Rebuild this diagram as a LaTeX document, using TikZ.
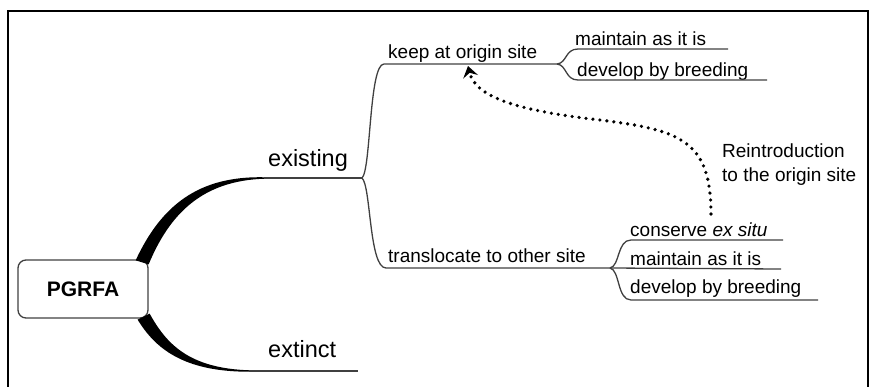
\documentclass[tikz,border=0pt]{standalone}
\usepackage{fontspec}
\setmainfont{Liberation Sans}
\usetikzlibrary{arrows.meta}

\tikzset{
  lbl/.style={inner sep=0pt, anchor=base west, font=\fontsize{19}{24}\selectfont},
  biglbl/.style={inner sep=0pt, anchor=base west, font=\fontsize{23.5}{28}\selectfont},
  twig/.style={draw=black!75, line width=1.3pt},
  limb/.style={fill=black},
  frame/.style={line width=2.6pt},
  reintro/.style={line width=3.6pt, dash pattern=on 0pt off 7pt, line cap=round,
    -{Stealth[length=11pt,width=15pt,inset=4pt]}}
}

\begin{document}
\begin{tikzpicture}[x=1pt,y=-1pt]
\useasboundingbox (0,0) rectangle (873,386);
% frame, open at the bottom
\draw[frame] (8,392) -- (8,11) -- (868,11) -- (868,392);

% root
\node[draw=black!75, line width=1.3pt, rounded corners=8pt, minimum width=130pt,
  minimum height=58pt, font=\fontsize{21}{24}\selectfont\bfseries] (root) at (83,289) {PGRFA};

% labels
\node[biglbl] (exist) at (268,166) {existing};
\node[biglbl] (extinct) at (268,357) {extinct};
\node[lbl] (keep) at (388,58) {keep at origin site};
\node[lbl] (trans) at (388,262) {translocate to other site};
\node[lbl] (keepA) at (575,45) {maintain as it is};
\node[lbl] (keepB) at (577,76) {develop by breeding};
\node[lbl] (exsitu) at (630,236) {conserve \textit{ex situ}};
\node[lbl] (transA) at (630,265) {maintain as it is};
\node[lbl] (transB) at (630,293) {develop by breeding};
\node[lbl, anchor=north west, align=left] (back) at (722,144) {Reintroduction\\to the origin site};

% forks
\coordinate (fork) at (362,178);
\coordinate (keepfork) at (557,64);
\coordinate (transfork) at (610,268);
\coordinate (extinctend) at (358,371);

% thick limbs
\fill[limb] ([xshift=-13pt,yshift=-1pt]root.north east) .. controls (161,206) and (198,175.5) .. (265,177.3)
  -- (265,178.7) .. controls (203,180.5) and (170,213) .. ([yshift=-5pt]root.north east) -- cycle;
\fill[limb] ([xshift=1pt,yshift=5pt]root.south east) .. controls (166,343) and (188,368.5) .. (250,370.3)
  -- (250,371.7) .. controls (183,372) and (155,348) .. ([xshift=-11pt,yshift=-1pt]root.south east) -- cycle;
\draw[twig] (264,178) -- (fork);
\draw[twig] (249,371) -- (extinctend);

% branches
\draw[twig] (fork) .. controls (371,170) and (369,64) .. (384,64) -- (keepfork);
\draw[twig] (fork) .. controls (371,186) and (369,268) .. (386,268) -- (transfork);
\draw[twig] (keepfork) .. controls (567,63) and (565,49) .. (578,49) -- (728,49);
\draw[twig] (keepfork) .. controls (567,65) and (565,80) .. (578,80) -- (767,80);
\draw[twig] (transfork) .. controls (620,266) and (617,240) .. (631,240) -- (783,240);
\draw[twig] (transfork) -- (781,269);
\draw[twig] (transfork) .. controls (620,270) and (617,300) .. (631,300) -- (818,300);

% reintroduction
\coordinate (backfrom) at (711,214);
\coordinate (backto) at (468,66);
\draw[reintro] (backfrom) .. controls (711,140) and (680,130) .. (600,120)
  .. controls (510,110) and (475,95) .. (backto);
\end{tikzpicture}
\end{document}
